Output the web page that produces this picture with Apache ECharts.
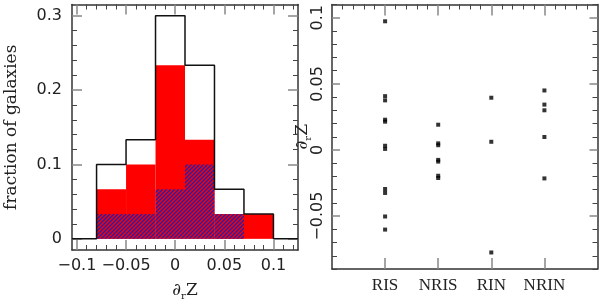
<!DOCTYPE html>
<html><head><meta charset="utf-8">
<script src="https://cdn.jsdelivr.net/npm/echarts@6/dist/echarts.min.js"></script>
<style>html,body{margin:0;padding:0;background:#fff}#c{width:600px;height:302px}</style>
</head><body><div id="c"></div>
<script>
// ---- data ----
const binEdges = [-0.08, -0.05, -0.02, 0.01, 0.04, 0.07, 0.10];
const fracAll   = [0.1000, 0.1333, 0.3000, 0.2333, 0.0667, 0.0333];
const fracRed   = [0.0667, 0.1000, 0.2333, 0.1333, 0.0333, 0.0333];
const fracHatch = [0.0333, 0.0333, 0.0667, 0.1000, 0.0333, 0.0000];
const histXTicks = [-0.1, -0.05, 0, 0.05, 0.1];
const histYTicks = [0, 0.1, 0.2, 0.3];
const groups = ['RIS', 'NRIS', 'RIN', 'NRIN'];
const risVals  = [0.0973, 0.0407, 0.0375, 0.0229, 0.0214, 0.0032, 0.0008, -0.0295, -0.0325, -0.0503, -0.0602];
const nrisVals = [0.0191, 0.0050, 0.0036, -0.0075, -0.0088, -0.0195, -0.0212];
const rinVals  = [0.0395, 0.0062, -0.0775];
const nrinVals = [0.0450, 0.0343, 0.0300, 0.0098, -0.0215];
const scatYTicks = [-0.05, 0, 0.05, 0.1];

// ---- helpers ----
function range(a, b, step) { const r = []; for (let i = 0; a + i * step <= b + 1e-9; i++) r.push(+(a + i * step).toFixed(4)); return r; }
function without(arr, ex) { return arr.filter(v => !ex.some(e => Math.abs(e - v) < 1e-6)); }
function fmt(v) { const s = String(+Math.abs(v).toFixed(3)); return v < 0 ? '\u2212' + s : s; }

const hatch = document.createElement('canvas');
hatch.width = 4; hatch.height = 4;
(function () {
  const g = hatch.getContext('2d');
  g.fillStyle = '#ff0000'; g.fillRect(0, 0, 4, 4);
  g.strokeStyle = '#2a1ea8'; g.lineWidth = 1.5;
  g.beginPath();
  g.moveTo(-1, 5); g.lineTo(5, -1);
  g.moveTo(-1, 1); g.lineTo(1, -1);
  g.moveTo(3, 5); g.lineTo(5, 3);
  g.stroke();
})();

const hxMin = -0.105, hxMax = 0.125, hyMin = -0.015, hyMax = 0.315;
const sxMin = 0, sxMax = 5, syMin = -0.09, syMax = 0.11;

const numFont = { fontFamily: 'DejaVu Sans', fontSize: 16, color: '#222' };
const majorTick = (vals, len) => ({ show: true, inside: true, length: len, customValues: vals, lineStyle: { color: '#888', width: 1.5 } });
const minorTick = (vals, len) => ({ show: true, inside: true, length: len, customValues: vals, lineStyle: { color: '#444', width: 1 } });
const boxLine = { show: true, onZero: false, lineStyle: { color: '#333', width: 1.5 } };
const noLine = { show: false, onZero: false };

const hxMinor = without(range(-0.1, 0.12, 0.01), histXTicks);
const hyMinor = without(range(0, 0.3, 0.02), histYTicks);
const sxMinor = without(range(0, 5, 0.2), [0, 1, 2, 3, 4, 5]);
const syMinor = without(range(-0.09, 0.11, 0.01), scatYTicks);

function binRects(vals) { return vals.map((v, i) => [binEdges[i], binEdges[i + 1], v]); }
function stepLine() {
  const pts = [[hxMin, 0], [binEdges[0], 0]];
  fracAll.forEach((v, i) => { pts.push([binEdges[i], v]); pts.push([binEdges[i + 1], v]); });
  pts.push([binEdges[binEdges.length - 1], 0]); pts.push([hxMax, 0]);
  return pts;
}
function rectItem(fill) {
  return function (params, api) {
    const p0 = api.coord([api.value(0), 0]);
    const p1 = api.coord([api.value(1), api.value(2)]);
    return { type: 'rect', shape: { x: p0[0], y: p1[1], width: p1[0] - p0[0], height: p0[1] - p1[1] }, style: { fill: fill } };
  };
}
const scatData = [risVals, nrisVals, rinVals, nrinVals].map((arr, gi) => arr.map(v => [gi + 1, v]));

const nameRich = {
  d: { fontFamily: 'DejaVu Serif', fontSize: 17, lineHeight: 20, color: '#222', verticalAlign: 'middle' },
  s: { fontFamily: 'DejaVu Serif', fontSize: 10, lineHeight: 10, color: '#222', verticalAlign: 'bottom' }
};

const option = {
  animation: false,
  backgroundColor: '#fff',
  grid: [
    { left: 72, top: 4.5, width: 226, height: 245.5, outerBoundsMode: 'none', containLabel: false },
    { left: 332, top: 4.5, width: 265.5, height: 264.5, outerBoundsMode: 'none', containLabel: false }
  ],
  xAxis: [
    { gridIndex: 0, type: 'value', position: 'bottom', min: hxMin, max: hxMax, axisLine: boxLine, splitLine: { show: false },
      axisTick: majorTick(histXTicks, 10),
      axisLabel: Object.assign({ customValues: histXTicks, margin: 8, formatter: fmt }, numFont),
      name: '{d|\u2202}{s|r}{d|Z}', nameLocation: 'middle', nameGap: 31, nameMoveOverlap: false, nameTextStyle: { rich: nameRich } },
    { gridIndex: 0, type: 'value', position: 'bottom', min: hxMin, max: hxMax, axisLine: noLine, splitLine: { show: false },
      axisTick: minorTick(hxMinor, 5), axisLabel: { show: false } },
    { gridIndex: 0, type: 'value', position: 'top', min: hxMin, max: hxMax, axisLine: boxLine, splitLine: { show: false },
      axisTick: majorTick(histXTicks, 10), axisLabel: { show: false } },
    { gridIndex: 0, type: 'value', position: 'top', min: hxMin, max: hxMax, axisLine: noLine, splitLine: { show: false },
      axisTick: minorTick(hxMinor, 5), axisLabel: { show: false } },
    { gridIndex: 1, type: 'value', position: 'bottom', min: sxMin, max: sxMax, axisLine: boxLine, splitLine: { show: false },
      axisTick: majorTick([1, 2, 3, 4], 11),
      axisLabel: { customValues: [1, 2, 3, 4], margin: 8, formatter: v => groups[Math.round(v) - 1] || '', fontFamily: 'Liberation Serif', fontSize: 17, color: '#222' } },
    { gridIndex: 1, type: 'value', position: 'top', min: sxMin, max: sxMax, axisLine: boxLine, splitLine: { show: false },
      axisTick: majorTick([1, 2, 3, 4], 11), axisLabel: { show: false } },
    { gridIndex: 1, type: 'value', position: 'top', min: sxMin, max: sxMax, axisLine: noLine, splitLine: { show: false },
      axisTick: minorTick(sxMinor, 5), axisLabel: { show: false } }
  ],
  yAxis: [
    { gridIndex: 0, type: 'value', position: 'left', min: hyMin, max: hyMax, axisLine: boxLine, splitLine: { show: false },
      axisTick: majorTick(histYTicks, 10),
      axisLabel: Object.assign({ customValues: histYTicks, margin: 10, formatter: fmt }, numFont),
      name: 'fraction of galaxies', nameLocation: 'middle', nameRotate: 90, nameGap: 52, nameMoveOverlap: false,
      nameTextStyle: { fontFamily: 'DejaVu Serif', fontSize: 17, color: '#222' } },
    { gridIndex: 0, type: 'value', position: 'left', min: hyMin, max: hyMax, axisLine: noLine, splitLine: { show: false },
      axisTick: minorTick(hyMinor, 5), axisLabel: { show: false } },
    { gridIndex: 0, type: 'value', position: 'right', min: hyMin, max: hyMax, axisLine: boxLine, splitLine: { show: false },
      axisTick: majorTick(histYTicks, 10), axisLabel: { show: false } },
    { gridIndex: 0, type: 'value', position: 'right', min: hyMin, max: hyMax, axisLine: noLine, splitLine: { show: false },
      axisTick: minorTick(hyMinor, 5), axisLabel: { show: false } },
    { gridIndex: 1, type: 'value', position: 'left', min: syMin, max: syMax, axisLine: boxLine, splitLine: { show: false },
      axisTick: majorTick(scatYTicks, 8),
      axisLabel: Object.assign({ customValues: scatYTicks, margin: 6, rotate: 90, formatter: fmt }, numFont),
      name: '{d|\u2202}{s|r}{d|Z}', nameLocation: 'middle', nameRotate: 90, nameGap: 19, nameMoveOverlap: false, nameTextStyle: { rich: nameRich } },
    { gridIndex: 1, type: 'value', position: 'left', min: syMin, max: syMax, axisLine: noLine, splitLine: { show: false },
      axisTick: minorTick(syMinor, 5), axisLabel: { show: false } },
    { gridIndex: 1, type: 'value', position: 'right', min: syMin, max: syMax, axisLine: boxLine, splitLine: { show: false },
      axisTick: majorTick(scatYTicks, 8), axisLabel: { show: false } },
    { gridIndex: 1, type: 'value', position: 'right', min: syMin, max: syMax, axisLine: noLine, splitLine: { show: false },
      axisTick: minorTick(syMinor, 5), axisLabel: { show: false } }
  ],
  series: [
    { type: 'custom', xAxisIndex: 0, yAxisIndex: 0, data: binRects(fracRed), renderItem: rectItem('#ff0000'), z: 2 },
    { type: 'custom', xAxisIndex: 0, yAxisIndex: 0, data: binRects(fracHatch), renderItem: rectItem({ image: hatch, repeat: 'repeat' }), z: 3 },
    { type: 'line', xAxisIndex: 0, yAxisIndex: 0, data: stepLine(), showSymbol: false, silent: true, z: 4,
      lineStyle: { color: '#111', width: 1.5 } },
    { type: 'scatter', xAxisIndex: 4, yAxisIndex: 4, data: [].concat(...scatData), symbol: 'rect', symbolSize: 4,
      itemStyle: { color: '#000' } }
  ]
};
echarts.init(document.getElementById('c'), null, { renderer: 'canvas' }).setOption(option);
</script>
</body></html>
